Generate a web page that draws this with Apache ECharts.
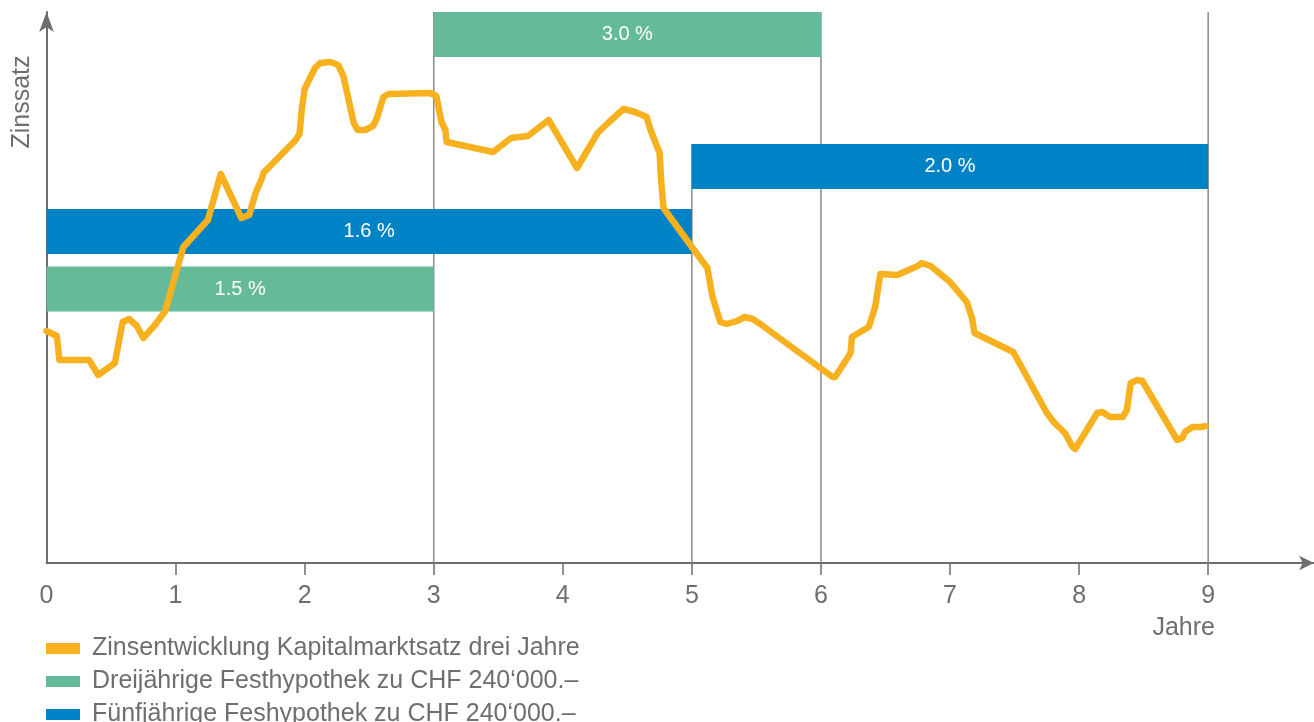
<!DOCTYPE html>
<html>
<head>
<meta charset="utf-8">
<script src="https://cdn.jsdelivr.net/npm/echarts@6/dist/echarts.min.js"></script>
<style>
  html, body { margin: 0; padding: 0; background: #fff; }
  #chart { width: 1314px; height: 722px; }
</style>
</head>
<body>
<div id="chart"></div>
<script>
// Zinsentwicklung (Jahre, Zinssatz-Index)
var rateYears = [0, 0.08, 0.10, 0.33, 0.40, 0.53, 0.59, 0.64, 0.70, 0.75, 0.84, 0.92, 1.06, 1.25, 1.35, 1.51, 1.57, 1.62, 1.67, 1.68,
  1.93, 1.96, 1.98, 2.00, 2.08, 2.12, 2.20, 2.26, 2.30, 2.38, 2.41, 2.47, 2.53, 2.56, 2.61, 2.65, 2.97, 3.02, 3.06, 3.09,
  3.10, 3.46, 3.60, 3.73, 3.89, 4.11, 4.27, 4.35, 4.47, 4.56, 4.65, 4.68, 4.75, 4.76, 4.78, 5.00, 5.12, 5.16, 5.22, 5.27,
  5.35, 5.41, 5.47, 5.53, 6.09, 6.11, 6.23, 6.24, 6.37, 6.42, 6.46, 6.59, 6.75, 6.78, 6.85, 7.00, 7.13, 7.17, 7.19, 7.49,
  7.75, 7.81, 7.89, 7.95, 7.97, 8.14, 8.18, 8.24, 8.34, 8.37, 8.40, 8.45, 8.49, 8.76, 8.80, 8.82, 8.88, 8.95, 8.98];
var rateValues = [2.32, 2.27, 2.03, 2.03, 1.88, 2.00, 2.41, 2.44, 2.37, 2.25, 2.38, 2.52, 3.16, 3.43, 3.89, 3.45, 3.48, 3.70, 3.85, 3.90,
  4.23, 4.29, 4.56, 4.74, 4.95, 5.00, 5.01, 4.98, 4.87, 4.40, 4.33, 4.33, 4.37, 4.45, 4.66, 4.69, 4.70, 4.67, 4.41, 4.33,
  4.21, 4.11, 4.25, 4.27, 4.43, 3.95, 4.30, 4.40, 4.54, 4.51, 4.46, 4.33, 4.10, 3.86, 3.55, 3.16, 2.95, 2.66, 2.41, 2.39,
  2.42, 2.46, 2.44, 2.39, 1.86, 1.86, 2.10, 2.26, 2.36, 2.56, 2.89, 2.88, 2.97, 3.00, 2.97, 2.81, 2.61, 2.45, 2.30, 2.11,
  1.50, 1.40, 1.30, 1.16, 1.14, 1.50, 1.51, 1.46, 1.46, 1.53, 1.80, 1.83, 1.82, 1.23, 1.25, 1.31, 1.36, 1.36, 1.37];

// Festhypotheken: Laufzeit von/bis, Niveau auf der Zinsachse, Satz
var threeYearStart = [0, 3];
var threeYearEnd = [3, 6];
var threeYearLevel = [2.74, 5.285];
var threeYearRate = [1.5, 3.0];

var fiveYearStart = [0, 5];
var fiveYearEnd = [5, 9];
var fiveYearLevel = [3.315, 3.965];
var fiveYearRate = [1.6, 2.0];

// senkrechte Hilfslinien (Jahr, oberes Ende)
var guideYears = [3, 5, 6, 9];
var guideTops = [5.51, 4.19, 5.51, 5.51];

var yearTicks = [0, 1, 2, 3, 4, 5, 6, 7, 8, 9];

var seriesNames = [
  'Zinsentwicklung Kapitalmarktsatz drei Jahre',
  'Dreijährige Festhypothek zu CHF 240‘000.–',
  'Fünfjährige Feshypothek zu CHF 240‘000.–'
];

var ORANGE = '#f7b11f';
var GREEN = '#65ba9a';
var BLUE = '#0082c6';
var GREY = '#6e6e6e';
var FONT = "'Liberation Sans', Arial, sans-serif";
var BAR_H = 45;

function zip(a, b) {
  return a.map(function (v, i) { return [v, b[i]]; });
}

function barData(start, end, level, rate) {
  return start.map(function (s, i) { return [s, end[i], level[i], rate[i]]; });
}

function renderBar(color) {
  return function (params, api) {
    var p0 = api.coord([api.value(0), api.value(2)]);
    var p1 = api.coord([api.value(1), api.value(2)]);
    return {
      type: 'rect',
      shape: { x: p0[0], y: p0[1] - BAR_H / 2, width: p1[0] - p0[0], height: BAR_H },
      style: { fill: color },
      textContent: {
        style: {
          text: api.value(3).toFixed(1) + ' %',
          fill: '#fff',
          font: '20px ' + FONT
        }
      },
      textConfig: { position: 'inside' }
    };
  };
}

// one legend block per row, so the list never wraps into columns
var legends = seriesNames.map(function (name, i) {
  return {
    left: 46,
    top: 636 + i * 33,
    padding: 0,
    icon: 'rect',
    itemWidth: 34,
    itemHeight: 11,
    selectedMode: false,
    data: [name],
    textStyle: {
      color: GREY,
      fontSize: 25,
      fontFamily: FONT,
      padding: [0, 0, 0, 7]
    }
  };
});

var chart = echarts.init(document.getElementById('chart'));

var option = {
  animation: false,
  backgroundColor: '#fff',
  grid: { left: 46.5, right: 0, top: 12, bottom: 159 },
  xAxis: {
    type: 'value',
    min: 0,
    max: 9.82,
    axisLine: {
      show: true,
      symbol: ['none', 'arrow'],
      symbolSize: [11, 15],
      lineStyle: { color: GREY, width: 2 }
    },
    axisTick: {
      show: true,
      customValues: yearTicks.slice(1),
      length: 12,
      lineStyle: { color: GREY, width: 1.5 }
    },
    axisLabel: {
      customValues: yearTicks,
      margin: 21,
      color: GREY,
      fontSize: 25,
      fontFamily: FONT
    },
    splitLine: { show: false }
  },
  yAxis: {
    type: 'value',
    min: 0,
    max: 5.51,
    axisLine: {
      show: true,
      symbol: ['none', 'arrow'],
      symbolSize: [11, 20],
      lineStyle: { color: GREY, width: 2 }
    },
    axisTick: { show: false },
    axisLabel: { show: false },
    splitLine: { show: false }
  },
  legend: legends,
  graphic: [
    {
      type: 'text',
      x: 22,
      y: 102,
      rotation: Math.PI / 2,
      style: {
        text: 'Zinssatz',
        fill: GREY,
        font: '25px ' + FONT,
        align: 'center',
        verticalAlign: 'middle'
      }
    },
    {
      type: 'text',
      x: 1215,
      y: 628,
      style: {
        text: 'Jahre',
        fill: GREY,
        font: '25px ' + FONT,
        align: 'right',
        verticalAlign: 'middle'
      }
    }
  ],
  series: [
    {
      name: 'guides',
      type: 'custom',
      z: 1,
      silent: true,
      data: zip(guideYears, guideTops),
      renderItem: function (params, api) {
        var top = api.coord([api.value(0), api.value(1)]);
        var bottom = api.coord([api.value(0), 0]);
        return {
          type: 'line',
          shape: { x1: top[0], y1: top[1], x2: bottom[0], y2: bottom[1] },
          style: { stroke: '#8a8a8a', lineWidth: 1.5 }
        };
      }
    },
    {
      name: seriesNames[1],
      type: 'custom',
      z: 2,
      color: GREEN,
      itemStyle: { color: GREEN },
      data: barData(threeYearStart, threeYearEnd, threeYearLevel, threeYearRate),
      renderItem: renderBar(GREEN)
    },
    {
      name: seriesNames[2],
      type: 'custom',
      z: 2,
      color: BLUE,
      itemStyle: { color: BLUE },
      data: barData(fiveYearStart, fiveYearEnd, fiveYearLevel, fiveYearRate),
      renderItem: renderBar(BLUE)
    },
    {
      name: seriesNames[0],
      type: 'line',
      z: 3,
      color: ORANGE,
      showSymbol: false,
      clip: false,
      data: zip(rateYears, rateValues),
      lineStyle: { color: ORANGE, width: 6.5, join: 'round', cap: 'round' },
      itemStyle: { color: ORANGE }
    }
  ]
};

chart.setOption(option);
</script>
</body>
</html>
